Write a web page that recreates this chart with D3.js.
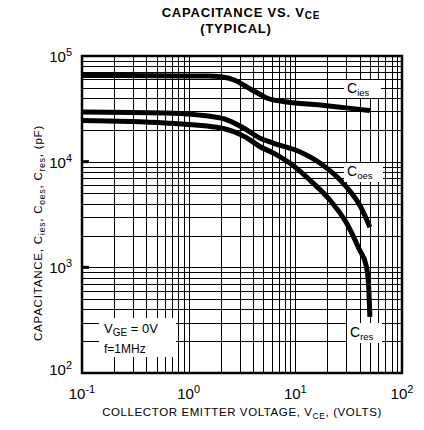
<!DOCTYPE html>
<html>
<head>
<meta charset="utf-8">
<script src="https://cdn.jsdelivr.net/npm/d3@7"></script>
<style>
  body { margin: 0; background: #fff; }
  text { font-family: "Liberation Sans", Arial, sans-serif; fill: #000; }
</style>
</head>
<body>
<svg id="chart"></svg>
<script>
var viewWidth = 424;
var viewHeight = 430;

// data
var vceIes = [0.1, 0.5, 1.5, 2.0, 2.7, 3.5, 4.6, 5.4, 8.3, 17, 30, 50];
var cies   = [65400, 65200, 64500, 63500, 59000, 51000, 43700, 40000, 36700, 34400, 32300, 30500];

var vceOes = [0.1, 0.6, 2.0, 3.5, 4.6, 6.2, 11, 17, 30, 41, 50];
var coes   = [29500, 28900, 25900, 20000, 16800, 15000, 12400, 9700, 5800, 3730, 2400];

var vceRes = [0.1, 0.6, 2.0, 3.5, 4.6, 6.5, 9, 14.6, 21, 30, 40, 46, 48.5, 50];
var cres   = [24500, 23200, 20800, 16800, 14000, 11800, 9600, 6300, 4350, 2650, 1460, 1050, 700, 340];

var xTicks = [0.1, 1, 10, 100];
var xTickExp = ["-1", "0", "1", "2"];
var yTicks = [100, 1000, 10000, 100000];
var yTickExp = ["2", "3", "4", "5"];

var margin = {top: 56, right: 22, bottom: 57, left: 82};
var width = viewWidth - margin.left - margin.right;
var height = viewHeight - margin.top - margin.bottom;

var svg = d3.select("#chart")
    .attr("width", viewWidth)
    .attr("height", viewHeight);

var g = svg.append("g")
    .attr("transform", "translate(" + margin.left + "," + margin.top + ")");

var x = d3.scaleLog().domain([0.1, 100]).range([0, width]);
var y = d3.scaleLog().domain([100, 100000]).range([height, 0]);

// log grid: 1..9 in every decade
var xGrid = [], yGrid = [];
[0.1, 1, 10].forEach(function(d) {
  for (var i = 2; i <= 9; i++) xGrid.push(d * i);
});
[100, 1000, 10000].forEach(function(d) {
  for (var i = 2; i <= 9; i++) yGrid.push(d * i);
});
xGrid = xGrid.concat([1, 10]);
yGrid = yGrid.concat([1000, 10000]);

g.append("g").selectAll("line")
    .data(xGrid)
  .enter().append("line")
    .attr("x1", function(d) { return Math.round(x(d)) + 0.5; })
    .attr("x2", function(d) { return Math.round(x(d)) + 0.5; })
    .attr("y1", 0)
    .attr("y2", height)
    .attr("stroke", "#000")
    .attr("stroke-width", 1);

g.append("g").selectAll("line")
    .data(yGrid)
  .enter().append("line")
    .attr("y1", function(d) { return Math.round(y(d)) + 0.5; })
    .attr("y2", function(d) { return Math.round(y(d)) + 0.5; })
    .attr("x1", 0)
    .attr("x2", width)
    .attr("stroke", "#000")
    .attr("stroke-width", 1);

// short heavy stubs at the decades
g.append("g").selectAll("line")
    .data([1000, 10000])
  .enter().append("line")
    .attr("x1", 0).attr("x2", 7)
    .attr("y1", function(d) { return y(d); })
    .attr("y2", function(d) { return y(d); })
    .attr("stroke", "#000")
    .attr("stroke-width", 3);

// white boxes behind the labels
svg.append("rect").attr("x", 99).attr("y", 318).attr("width", 77).attr("height", 39).attr("fill", "#fff");
svg.append("rect").attr("x", 344).attr("y", 80).attr("width", 37).attr("height", 18).attr("fill", "#fff");
svg.append("rect").attr("x", 344).attr("y", 163).attr("width", 39).attr("height", 19).attr("fill", "#fff");
svg.append("rect").attr("x", 347).attr("y", 323).attr("width", 35).attr("height", 20).attr("fill", "#fff");

// curves
var line = d3.line()
    .x(function(d) { return x(d[0]); })
    .y(function(d) { return y(d[1]); })
    .curve(d3.curveMonotoneX);

[[vceIes, cies], [vceOes, coes], [vceRes, cres]].forEach(function(s) {
  g.append("path")
      .datum(d3.zip(s[0], s[1]))
      .attr("d", line)
      .attr("fill", "none")
      .attr("stroke", "#000")
      .attr("stroke-width", 5)
      .attr("stroke-linecap", "butt");
});

// frame
g.append("rect")
    .attr("x", 0).attr("y", 0)
    .attr("width", width).attr("height", height)
    .attr("fill", "none")
    .attr("stroke", "#000")
    .attr("stroke-width", 2.5);

// tick labels
var xl = g.append("g").selectAll("text")
    .data(xTicks)
  .enter().append("text")
    .attr("x", function(d) { return x(d); })
    .attr("y", height + 26)
    .attr("text-anchor", "middle")
    .style("font-size", "15px");
xl.append("tspan").text("10");
xl.append("tspan")
    .attr("dy", -6)
    .style("font-size", "11px")
    .text(function(d, i) { return xTickExp[i]; });

var yl = g.append("g").selectAll("text")
    .data(yTicks)
  .enter().append("text")
    .attr("x", -10)
    .attr("y", function(d, i) { return i == 0 ? y(d) + 2 : y(d) + 6; })
    .attr("text-anchor", "end")
    .style("font-size", "15px");
yl.append("tspan").text("10");
yl.append("tspan")
    .attr("dy", -6)
    .style("font-size", "11px")
    .text(function(d, i) { return yTickExp[i]; });

// title
var t1 = svg.append("text")
    .attr("x", 241).attr("y", 17)
    .attr("text-anchor", "middle")
    .style("font-size", "13px")
    .style("letter-spacing", "0.8px")
    .style("font-weight", "bold");
t1.append("tspan").text("CAPACITANCE VS. V");
t1.append("tspan").attr("dy", 2).style("font-size", "10px").text("CE");
svg.append("text")
    .attr("x", 236).attr("y", 33)
    .attr("text-anchor", "middle")
    .style("font-size", "13px")
    .style("letter-spacing", "0.8px")
    .style("font-weight", "bold")
    .text("(TYPICAL)");

// curve labels
function sublabel(px, py, main, sub) {
  var t = svg.append("text")
      .attr("x", px).attr("y", py)
      .style("font-size", "14px");
  t.append("tspan").text(main);
  t.append("tspan").attr("dy", 3).style("font-size", "9.5px").text(sub);
}
sublabel(347, 93, "C", "ies");
sublabel(347, 176, "C", "oes");
sublabel(350, 337, "C", "res");

// conditions
var c1 = svg.append("text")
    .attr("x", 104).attr("y", 333)
    .style("font-size", "13px");
c1.append("tspan").text("V");
c1.append("tspan").attr("dy", 3).style("font-size", "10px").text("GE");
c1.append("tspan").attr("dy", -3).text(" = 0V");
svg.append("text")
    .attr("x", 104).attr("y", 353)
    .style("font-size", "12px")
    .text("f=1MHz");

// axis titles
var xt = svg.append("text")
    .attr("x", 242).attr("y", 416)
    .attr("text-anchor", "middle")
    .style("font-size", "11.5px")
    .style("letter-spacing", "0.6px");
xt.append("tspan").text("COLLECTOR EMITTER VOLTAGE, V");
xt.append("tspan").attr("dy", 3).style("font-size", "8.5px").text("CE");
xt.append("tspan").attr("dy", -3).text(", (VOLTS)");

var yt = svg.append("text")
    .attr("transform", "translate(42,233) rotate(-90)")
    .attr("text-anchor", "middle")
    .style("font-size", "11.5px")
    .style("letter-spacing", "0.8px");
yt.append("tspan").text("CAPACITANCE, C");
yt.append("tspan").attr("dy", 3).style("font-size", "8.5px").text("ies");
yt.append("tspan").attr("dy", -3).text(", C");
yt.append("tspan").attr("dy", 3).style("font-size", "8.5px").text("oes");
yt.append("tspan").attr("dy", -3).text(", C");
yt.append("tspan").attr("dy", 3).style("font-size", "8.5px").text("res");
yt.append("tspan").attr("dy", -3).text(", (pF)");
</script>
</body>
</html>
